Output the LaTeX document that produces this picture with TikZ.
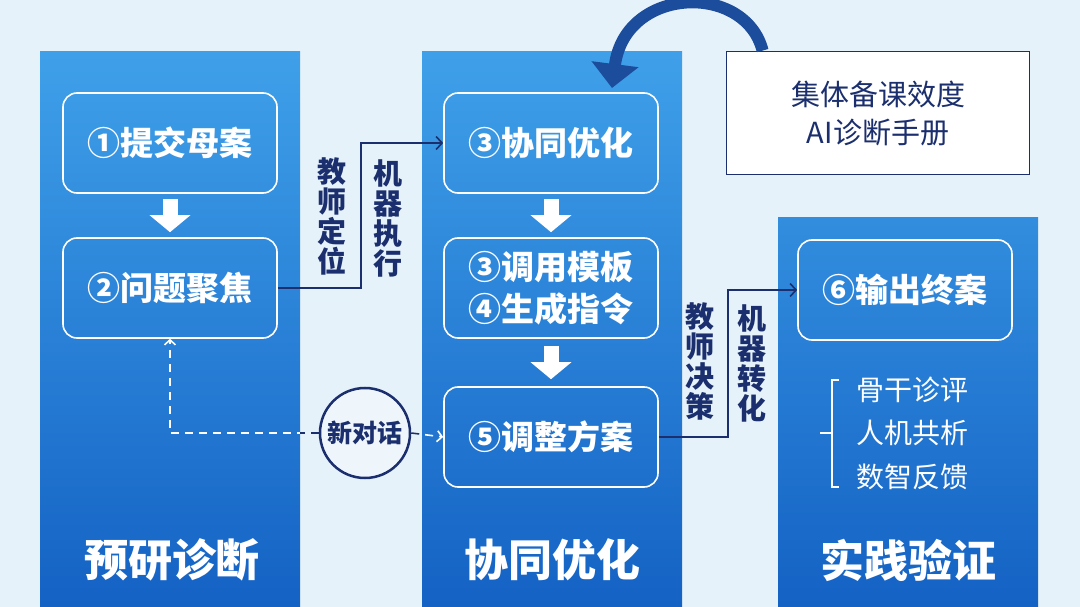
\documentclass[tikz,border=0pt]{standalone}
\usepackage{fontspec}
\setmainfont{Noto Sans CJK SC}
\usetikzlibrary{positioning, arrows.meta, calc}
\definecolor{navy}{HTML}{1B2F6E}
\definecolor{paper}{HTML}{E6F2FA}
\definecolor{coltop}{HTML}{3FA0E9}
\definecolor{colbot}{HTML}{1462C4}
\definecolor{curve}{HTML}{1C4C9C}
\definecolor{bubble}{HTML}{EEF6FC}

\begin{document}
\begin{tikzpicture}[x=1pt, y=-1pt, node distance=145pt, on grid,
    stage/.style={draw=white, line width=1.6pt, rounded corners=14pt, minimum width=214pt, minimum height=100pt,
        text=white, align=center, font=\fontsize{33}{42}\selectfont\bfseries},
    title/.style={text=white, font=\fontsize{44}{48}\selectfont\bfseries},
    vlabel/.style={text=navy, align=center, font=\fontsize{29}{30}\selectfont\bfseries},
    flow/.style={draw=navy, line width=1.6pt, -{Straight Barb[length=6pt, width=13pt]}},
    down/.style={draw=white, line width=15pt, -{Triangle[length=17pt, width=40pt]}},
    talk/.style={line width=1.6pt, dash pattern=on 8pt off 6pt, -{Straight Barb[length=5pt, width=11pt]}},
    list/.style={text=white, font=\fontsize{28}{30}\selectfont}]

    \fill[paper] (0,0) rectangle (1080,607);
    \useasboundingbox (0,0) rectangle (1080,607);
    \shade[top color=coltop, bottom color=colbot] (40,52) rectangle (300,607);
    \shade[top color=coltop, bottom color=colbot] (422,52) rectangle (682,607);
    \shade[top color=coltop!70!colbot, bottom color=colbot] (778,218) rectangle (1038,607);

    \node[stage] (p1) at (170,143) {①提交母案};
    \node[stage] (p2) [below=of p1] {②问题聚焦};
    \node[stage] (c3) at (551,143) {③协同优化};
    \node[stage] (c34) [below=of c3] {③调用模板\\④生成指令};
    \node[stage] (c5) [below=149pt of c34] {⑤调整方案};
    \node[stage] (o6) at (905,290) {⑥输出终案};

    \node[title] (t1) at (172,560) {预研诊断};
    \node[title] (t2) at (552,560) {协同优化};
    \node[title] (t3) at (908,560) {实践验证};

    \node[draw=navy, line width=1.8pt, fill=white, minimum width=303pt, minimum height=123pt,
        text=navy, align=center, font=\fontsize{29}{38}\selectfont] (manual) at (878,113) {集体备课效度\\AI诊断手册};
    \node[circle, draw=navy, line width=2.5pt, fill=bubble, minimum size=90pt, text=navy,
        font=\fontsize{25}{26}\selectfont\bfseries, inner sep=0pt] (talk) at (365,433) {新对话};

    \draw[down] ($(p1.south)+(0,5)$) -- ($(p2.north)+(0,-5)$);
    \draw[down] ($(c3.south)+(0,5)$) -- ($(c34.north)+(0,-5)$);
    \draw[down] ($(c34.south)+(0,7)$) -- ($(c5.north)+(0,-7)$);

    \draw[flow] (p2.east) -- ++(83,0) |- (c3.west);
    \node[vlabel] (teach1) at (332,216) {教\\师\\定\\位};
    \node[vlabel] (mach1) at (388,218) {机\\器\\执\\行};
    \draw[flow] (c5.east) -- ++(69,0) |- (o6.west);
    \node[vlabel] (teach2) at (700,361) {教\\师\\决\\策};
    \node[vlabel] (mach2) at (752,363) {机\\器\\转\\化};

    \draw[talk, white] (talk.west) -| (p2.south);
    \draw[talk, white] (talk.east) -- (c5.west);
    \begin{scope}
        \clip (300,400) rectangle (422,470);
        \draw[talk, navy] (talk.west) -| (p2.south);
        \draw[talk, navy, -] (talk.east) -- (c5.west);
    \end{scope}

    \coordinate (tip) at (612,88);
    \draw[curve, line width=12pt, -{Triangle[length=24pt, width=46pt]}]
        ($(manual.north west)+(37,0)$) .. controls (745,-18) and (625,-14) .. (tip);

    \node[list] (r1) at (912,390) {骨干诊评};
    \node[list] (r2) at (912,433) {人机共析};
    \node[list] (r3) at (912,477) {数智反馈};
    \draw[white, line width=1.6pt] (839,380) -- (832,380) -- (832,487) -- (839,487);
    \draw[white, line width=1.6pt] (820,433) -- (832,433);
\end{tikzpicture}
\end{document}
